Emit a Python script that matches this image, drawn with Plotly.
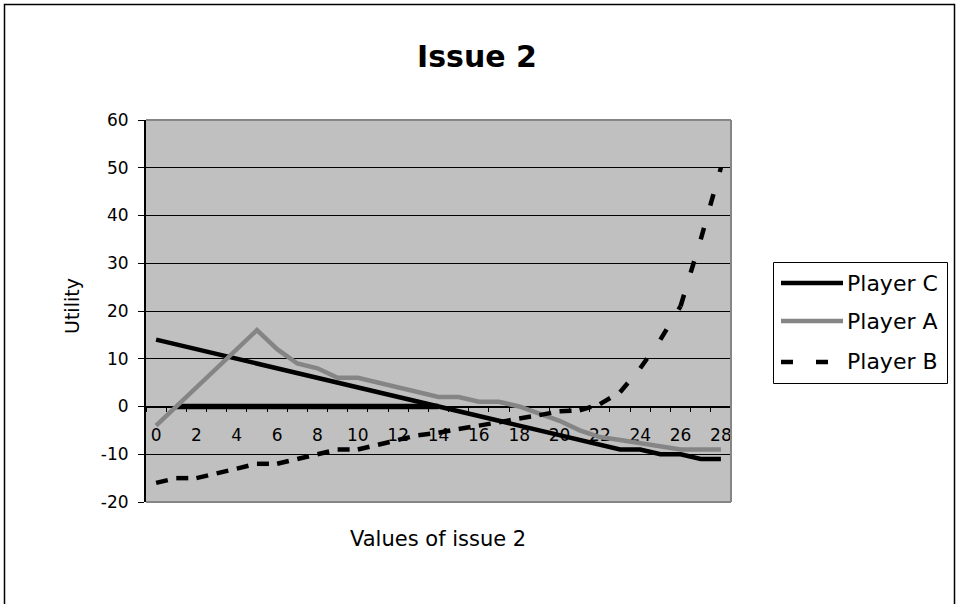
import plotly.graph_objects as go

# ---- data -------------------------------------------------------------
values = list(range(29))                      # values of issue 2
tick_values = list(range(0, 29, 2))
utility_ticks = [-20, -10, 0, 10, 20, 30, 40, 50, 60]
utility_labels = ["-20", "-10", "0", "10", "20", "30", "40", "50", "60"]

player_c = [14, 13, 12, 11, 10, 9, 8, 7, 6, 5, 4, 3, 2, 1, 0,
            -1, -2, -3, -4, -5, -6, -7, -8, -9, -9, -10, -10, -11, -11]
player_a = [-4, 0, 4, 8, 12, 16, 12, 9, 8, 6, 6, 5, 4, 3, 2,
            2, 1, 1, 0, -1.5, -3, -5, -6.4, -7, -7.6, -8.2, -9, -9, -9]
player_b = [-16, -15, -15, -14, -13, -12, -12, -11, -10, -9, -9, -8, -7, -6, -5.5,
            -4.7, -4, -3.3, -2.5, -1.8, -1, -0.8, 0.5, 3, 8, 14, 21, 35, 50]
baseline = [None] + [0] * 14 + [None] * 14    # flat zero series over values 1..14

series_names = ["Player C", "Player A", "Player B"]

# ---- geometry (pixels of a 959 x 604 canvas) ----------------------------
W, H = 959, 604
PLOT_L, PLOT_R, PLOT_T, PLOT_B = 146, 731, 120, 502
Y_MIN, Y_MAX = -20, 60


def px(x):
    return x / W


def py(y):
    return 1 - y / H


FONT = "DejaVu Sans"
BLACK = "#000000"
GREY = "#858585"

style_c = dict(color=BLACK, width=4.5)
style_a = dict(color=GREY, width=4.5)
style_b = dict(color=BLACK, width=4.5, dash="12px,23px")

fig = go.Figure()

# zero-valued series drawn under the players' lines
fig.add_trace(go.Scatter(x=values, y=baseline, mode="lines",
                         line=dict(color=BLACK, width=5.5), showlegend=False,
                         hoverinfo="skip"))

fig.add_trace(go.Scatter(x=values, y=player_c, mode="lines", name=series_names[0],
                         line=style_c, showlegend=False))
fig.add_trace(go.Scatter(x=values, y=player_a, mode="lines", name=series_names[1],
                         line=style_a, showlegend=False))

# the dashed series restarts its dash pattern at every data point
for i in range(len(values) - 1):
    fig.add_trace(go.Scatter(x=values[i:i + 2], y=player_b[i:i + 2], mode="lines",
                             name=series_names[2], line=style_b, showlegend=False))

zero_pos = py(PLOT_B - (0 - Y_MIN) / (Y_MAX - Y_MIN) * (PLOT_B - PLOT_T))

fig.update_layout(
    width=W, height=H,
    margin=dict(l=0, r=0, t=0, b=0),
    template="none",
    paper_bgcolor="white",
    plot_bgcolor="#C0C0C0",
    showlegend=False,
    font=dict(family=FONT, color=BLACK),
    xaxis=dict(
        domain=[px(PLOT_L), px(PLOT_R)],
        range=[-0.5, 28.5],
        tickmode="array", tickvals=tick_values,
        ticks="", showgrid=False, zeroline=False,
        showline=True, linecolor=BLACK, linewidth=1.5,
        anchor="free", position=zero_pos,
        tickfont=dict(family=FONT, size=17, color=BLACK),
        ticklabelstandoff=13,
        minor=dict(ticks="outside", tick0=-0.5, dtick=1, ticklen=5,
                   tickwidth=1, tickcolor=BLACK, showgrid=False),
        layer="below traces",
        automargin=False,
        fixedrange=True,
    ),
    yaxis=dict(
        domain=[py(PLOT_B), py(PLOT_T)],
        range=[Y_MIN, Y_MAX],
        tickmode="array", tickvals=utility_ticks, ticktext=utility_labels,
        ticks="outside", ticklen=6, tickwidth=1, tickcolor=BLACK,
        showgrid=True, gridcolor=BLACK, gridwidth=1,
        zeroline=False,
        showline=True, linecolor=BLACK, linewidth=2,
        tickfont=dict(family=FONT, size=17, color=BLACK),
        ticklabelstandoff=6,
        layer="below traces",
        automargin=False,
        fixedrange=True,
    ),
)

shapes = [
    # outer chart frame
    dict(type="rect", xref="paper", yref="paper",
         x0=px(4.5), x1=px(954.5), y0=py(640), y1=py(4.5),
         line=dict(color=BLACK, width=1.5), fillcolor="rgba(0,0,0,0)", layer="below"),
    # plot-area border (top, right, bottom)
    dict(type="line", xref="paper", yref="paper",
         x0=px(PLOT_L), x1=px(PLOT_R), y0=py(PLOT_T), y1=py(PLOT_T),
         line=dict(color=GREY, width=2), layer="above"),
    dict(type="line", xref="paper", yref="paper",
         x0=px(PLOT_R), x1=px(PLOT_R), y0=py(PLOT_T), y1=py(PLOT_B),
         line=dict(color=GREY, width=2), layer="above"),
    dict(type="line", xref="paper", yref="paper",
         x0=px(PLOT_L), x1=px(PLOT_R), y0=py(PLOT_B), y1=py(PLOT_B),
         line=dict(color=GREY, width=2), layer="above"),
    # legend box
    dict(type="rect", xref="paper", yref="paper",
         x0=px(773.5), x1=px(947.5), y0=py(383.5), y1=py(262.5),
         line=dict(color=BLACK, width=1), fillcolor="white", layer="above"),
]

annotations = [
    dict(text="<b>Issue 2</b>", x=px(477), y=py(57), xref="paper", yref="paper",
         showarrow=False, xanchor="center", yanchor="middle",
         font=dict(family=FONT, size=30, color=BLACK)),
    dict(text="Utility", x=px(72), y=py(306), xref="paper", yref="paper",
         showarrow=False, textangle=-90, xanchor="center", yanchor="middle",
         font=dict(family=FONT, size=19, color=BLACK)),
    dict(text="Values of issue 2", x=px(438), y=py(539), xref="paper", yref="paper",
         showarrow=False, xanchor="center", yanchor="middle",
         font=dict(family=FONT, size=21, color=BLACK)),
]

legend_rows = [283, 321, 362]
legend_styles = [style_c, style_a, style_b]
for name, row, style in zip(series_names, legend_rows, legend_styles):
    shapes.append(dict(type="line", xref="paper", yref="paper",
                       x0=px(781), x1=px(843), y0=py(row), y1=py(row),
                       line=style, layer="above"))
    annotations.append(dict(text=name, x=px(845), y=py(row), xref="paper", yref="paper",
                            showarrow=False, xanchor="left", yanchor="middle",
                            font=dict(family=FONT, size=22, color=BLACK)))

fig.update_layout(shapes=shapes, annotations=annotations)

fig.write_html("out.html", config={"displayModeBar": False})
